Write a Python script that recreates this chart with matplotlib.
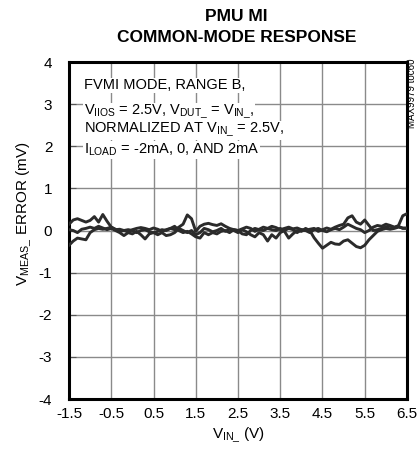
import numpy as np
import matplotlib
matplotlib.use("Agg")
import matplotlib.pyplot as plt

# fonts: narrow Arial-like look
plt.rcParams['font.family'] = ['Liberation Sans Narrow', 'Liberation Sans', 'DejaVu Sans']
plt.rcParams['mathtext.fontset'] = 'custom'
plt.rcParams['mathtext.rm'] = 'Liberation Sans'
plt.rcParams['mathtext.it'] = 'Liberation Sans'
plt.rcParams['axes.unicode_minus'] = False

# --- data ---
v_in = np.round(np.arange(-1.5, 6.55, 0.1), 1)   # VIN_ (V), 0.1 V steps

err_a = [0.15, 0.25, 0.28, 0.24, 0.20, 0.24, 0.33, 0.20, 0.38, 0.22,
         0.08, 0.02, 0.03, 0.00, -0.03, 0.02, 0.05, 0.07, 0.05, 0.02,
         0.06, 0.03, -0.02, 0.02, 0.05, 0.02, 0.08, 0.15, 0.37, 0.28,
         -0.02, 0.10, 0.15, 0.17, 0.14, 0.12, 0.16, 0.10, 0.05, 0.02,
         0.00, 0.04, 0.08, 0.05, -0.02, 0.03, 0.08, 0.05, 0.10, 0.07,
         0.02, 0.05, 0.08, 0.04, 0.06, 0.02, 0.00, 0.03, 0.05, -0.02,
         0.02, 0.06, 0.03, 0.08, 0.12, 0.15, 0.30, 0.35, 0.20, 0.15,
         0.25, 0.12, 0.00, 0.02, 0.05, 0.08, 0.10, 0.07, 0.12, 0.35,
         0.40]

err_b = [0.02, 0.00, -0.05, 0.03, 0.05, 0.08, 0.05, 0.10, 0.06, 0.02,
         0.05, 0.00, -0.05, -0.12, -0.05, -0.08, -0.02, -0.10, -0.20, -0.08,
         -0.05, -0.10, -0.05, -0.12, -0.10, -0.05, 0.05, 0.00, -0.05, 0.00,
         -0.10, -0.05, 0.05, 0.02, -0.03, 0.00, 0.05, -0.02, 0.03, 0.00,
         -0.05, 0.02, -0.03, -0.10, -0.15, -0.05, -0.10, -0.25, -0.10, -0.18,
         -0.05, 0.00, 0.05, 0.02, -0.05, 0.02, 0.00, -0.05, 0.02, 0.05,
         0.00, -0.03, 0.02, 0.05, 0.02, 0.08, 0.15, 0.10, 0.05, 0.02,
         -0.05, 0.00, 0.08, 0.12, 0.10, 0.15, 0.12, 0.08, 0.10, 0.05,
         0.05]

err_c = [-0.35, -0.25, -0.18, -0.20, -0.22, -0.05, 0.02, 0.05, 0.03, 0.05,
         0.08, 0.03, -0.02, 0.00, 0.02, 0.00, -0.05, 0.00, 0.02, -0.03,
         -0.05, -0.02, 0.02, 0.00, 0.05, 0.10, 0.00, -0.05, -0.02, -0.08,
         -0.15, -0.18, -0.05, -0.10, -0.05, -0.08, -0.02, 0.00, -0.05, 0.02,
         0.00, -0.08, -0.10, 0.00, 0.05, 0.02, 0.00, 0.05, 0.02, 0.00,
         0.05, -0.02, -0.18, -0.08, 0.00, -0.02, 0.05, 0.00, -0.17, -0.30,
         -0.42, -0.35, -0.28, -0.32, -0.33, -0.25, -0.22, -0.30, -0.38, -0.41,
         -0.35, -0.22, -0.12, -0.02, 0.02, 0.05, 0.03, 0.05, 0.08, 0.06,
         0.06]

x_ticks = [-1.5, -0.5, 0.5, 1.5, 2.5, 3.5, 4.5, 5.5, 6.5]
x_labels = ['-1.5', '-0.5', '0.5', '1.5', '2.5', '3.5', '4.5', '5.5', '6.5']
y_ticks = [-4, -3, -2, -1, 0, 1, 2, 3, 4]

note_lines = [
    'FVMI MODE, RANGE B,',
    r'V$_{\mathrm{IIOS}}$ = 2.5V, V$_{\mathrm{DUT\_}}$ = V$_{\mathrm{IN\_}}$,',
    r'NORMALIZED AT V$_{\mathrm{IN\_}}$ = 2.5V,',
    r'I$_{\mathrm{LOAD}}$ = -2mA, 0, AND 2mA',
]
note_y = [3.35, 2.74, 2.31, 1.83]

fig = plt.figure(figsize=(4.17, 4.58), dpi=100)
ax = fig.add_axes([0.1655, 0.1288, 0.8105, 0.7358])

# grid drawn by hand so the note can sit over it
for gx in x_ticks[1:-1]:
    ax.axvline(gx, color='#8a8a8a', lw=1.0, zorder=1)
for gy in y_ticks[1:-1]:
    ax.axhline(gy, color='#8a8a8a', lw=1.0, zorder=1)

for err in (err_a, err_b, err_c):
    ax.plot(v_in, err, color='#2b2b2b', lw=2.1, zorder=4)

ax.set_xlim(-1.5, 6.5)
ax.set_ylim(-4, 4)
ax.set_xticks(x_ticks)
ax.set_xticklabels(x_labels)
ax.set_yticks(y_ticks)
ax.tick_params(direction='in', length=5, width=0.8, labelsize=11, pad=12, color='#555555')
ax.tick_params(axis='x', length=0, pad=5.5)
for sp in ax.spines.values():
    sp.set_linewidth(2.2)

ax.set_xlabel(r'V$_{\mathrm{IN\_}}$ (V)', fontsize=11, labelpad=4)
ax.set_ylabel(r'V$_{\mathrm{MEAS\_}}$ ERROR (mV)', fontsize=11)
ax.yaxis.set_label_coords(-0.105, 0.55)

fig.text(0.567, 0.965, 'PMU MI', ha='center', va='center', fontsize=12.5, fontweight='bold')
fig.text(0.567, 0.918, 'COMMON-MODE RESPONSE', ha='center', va='center', fontsize=12.5, fontweight='bold')

for line, ny in zip(note_lines, note_y):
    ax.text(-1.14, ny, line, fontsize=10.5, ha='left', va='baseline', zorder=2,
            bbox=dict(facecolor='white', edgecolor='none', pad=0.5))

fig.text(0.988, 0.797, 'MAX9979 toc60', rotation=90, ha='center', va='center', fontsize=7)

fig.savefig('out.png', dpi=100)
